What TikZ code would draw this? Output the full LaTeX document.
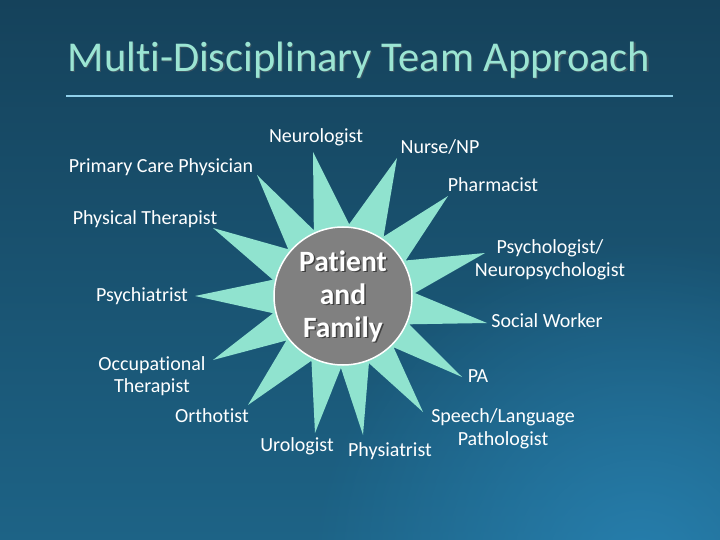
\documentclass[tikz,border=0pt]{standalone}
\usepackage{fontspec}
\setmainfont{Carlito}[Ligatures={NoCommon}]
\usetikzlibrary{fadings}
\definecolor{bgtop}{HTML}{15425B}
\definecolor{bgbot}{HTML}{1D6386}
\definecolor{glowc}{HTML}{2A88BA}
\definecolor{mint}{HTML}{90E3CF}
\definecolor{titlecol}{HTML}{9BE5D3}
\definecolor{rulecol}{HTML}{8FD0EA}
\definecolor{hubgray}{HTML}{808080}
\tikzfading[name=glowfade, inner color=transparent!25, outer color=transparent!100]
\begin{document}
\begin{tikzpicture}[x=1pt,y=-1pt,
  lbl/.style={text=white, font=\fontsize{20}{22.5}\selectfont, align=center, inner sep=0pt},
  hubtext/.style={font=\fontsize{29.5}{33}\selectfont\bfseries, align=center, inner sep=0pt}]
\useasboundingbox (0,0) rectangle (720,540);
\shade[top color=bgtop, bottom color=bgbot] (0,0) rectangle (720,540);
\fill[glowc, path fading=glowfade] (640,570) circle (330);
% title
\node[text=black!60, opacity=0.5, font=\fontsize{42.5}{48}\selectfont, inner sep=0pt] (titleshadow) at (360.2,61.2) {Multi-Disciplinary Team Approach};
\node[text=titlecol, font=\fontsize{42.5}{48}\selectfont, inner sep=0pt] (title) at (359,60) {Multi-Disciplinary Team Approach};
\coordinate (ruleL) at (66,96);
\coordinate (ruleR) at (673,96);
\draw[rulecol, line width=2pt] (ruleL) -- (ruleR);
% star
\coordinate (C) at (343,296);
\fill[mint] (487,323) -- ([shift={(23.15:72)}]C)
  -- (462,377) -- ([shift={(45.4:72)}]C)
  -- (423,412) -- ([shift={(68.9:72)}]C)
  -- (363,435) -- ([shift={(91.65:72)}]C)
  -- (315,433) -- ([shift={(116:72)}]C)
  -- (248,405) -- ([shift={(141.85:72)}]C)
  -- (213,360) -- ([shift={(166.15:72)}]C)
  -- (195,296) -- ([shift={(193.05:72)}]C)
  -- (213,228) -- ([shift={(220.5:72)}]C)
  -- (257,175) -- ([shift={(246.1:72)}]C)
  -- (313,152) -- ([shift={(274.9:72)}]C)
  -- (397,158) -- ([shift={(304.35:72)}]C)
  -- (448,196) -- ([shift={(330.45:72)}]C)
  -- (485,253) -- ([shift={(357.65:72)}]C) -- cycle;
% hub
\node[circle, fill=hubgray, draw=white, line width=1.5pt, minimum size=138pt, inner sep=0pt] (hub) at (C) {};
\node[hubtext, text=black!75] (hubshadow) at (344.5,297.5) {Patient\\and\\Family};
\node[hubtext, text=white] (hublabel) at (C) {Patient\\and\\Family};
% labels
\node[lbl] (neuro) at (316,137) {Neurologist};
\node[lbl] (nurse) at (440,147) {Nurse/NP};
\node[lbl] (pcp) at (161,167) {Primary Care Physician};
\node[lbl] (pharm) at (493,185) {Pharmacist};
\node[lbl] (pt) at (145,219) {Physical Therapist};
\node[lbl] (psychol) at (550,260) {Psychologist/\\Neuropsychologist};
\node[lbl] (psychi) at (142,296) {Psychiatrist};
\node[lbl] (social) at (547,321) {Social Worker};
\node[lbl] (ot) at (152,376) {Occupational\\Therapist};
\node[lbl] (pa) at (478,376) {PA};
\node[lbl] (ortho) at (212,416) {Orthotist};
\node[lbl] (slp) at (503,429) {Speech/Language\\Pathologist};
\node[lbl] (uro) at (297,446) {Urologist};
\node[lbl] (physiat) at (390,451) {Physiatrist};
\end{tikzpicture}
\end{document}
